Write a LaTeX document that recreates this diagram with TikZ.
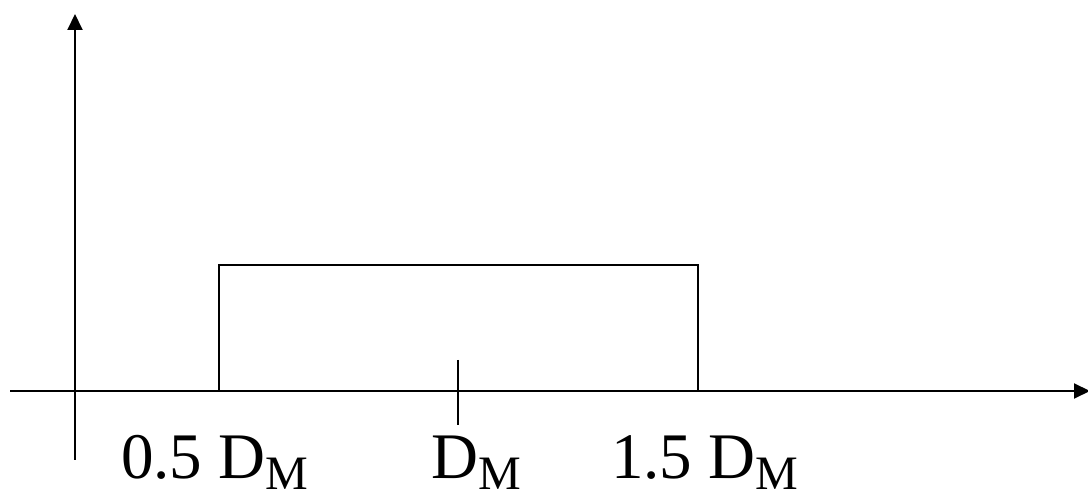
\documentclass[tikz,border=0pt]{standalone}
\usepackage{fontspec}
\setmainfont{Liberation Serif}
\usetikzlibrary{arrows.meta}
\newcommand{\sbm}{\raisebox{-11pt}{\fontsize{48}{48}\selectfont M}}
\tikzset{
  axis/.style={line width=2pt,-{Triangle[length=16pt,width=15pt]}},
  thin line/.style={line width=2pt},
  lbl/.style={anchor=base west,inner sep=0pt,font=\fontsize{65}{65}\selectfont}
}
\begin{document}
\begin{tikzpicture}[x=1pt,y=1pt]
\useasboundingbox (0,0) rectangle (1088,498);
\coordinate (xs) at (10,107);
\coordinate (xe) at (1090,107);
\coordinate (ys) at (75,38);
\coordinate (ye) at (75,484);
\coordinate (r1) at (219,107);
\coordinate (r2) at (698,233);
\coordinate (t1) at (458,138);
\coordinate (t2) at (458,73);
\draw[axis] (xs) -- (xe);
\draw[axis] (ys) -- (ye);
\draw[thin line] (r1) |- (r2) -- (r2 |- r1);
\draw[thin line] (t1) -- (t2);
\node[lbl] (l1) at (121,19) {0.5 D\sbm};
\node[lbl] (l2) at (431,19) {D\sbm};
\node[lbl] (l3) at (611,19) {1.5 D\sbm};
\end{tikzpicture}
\end{document}
